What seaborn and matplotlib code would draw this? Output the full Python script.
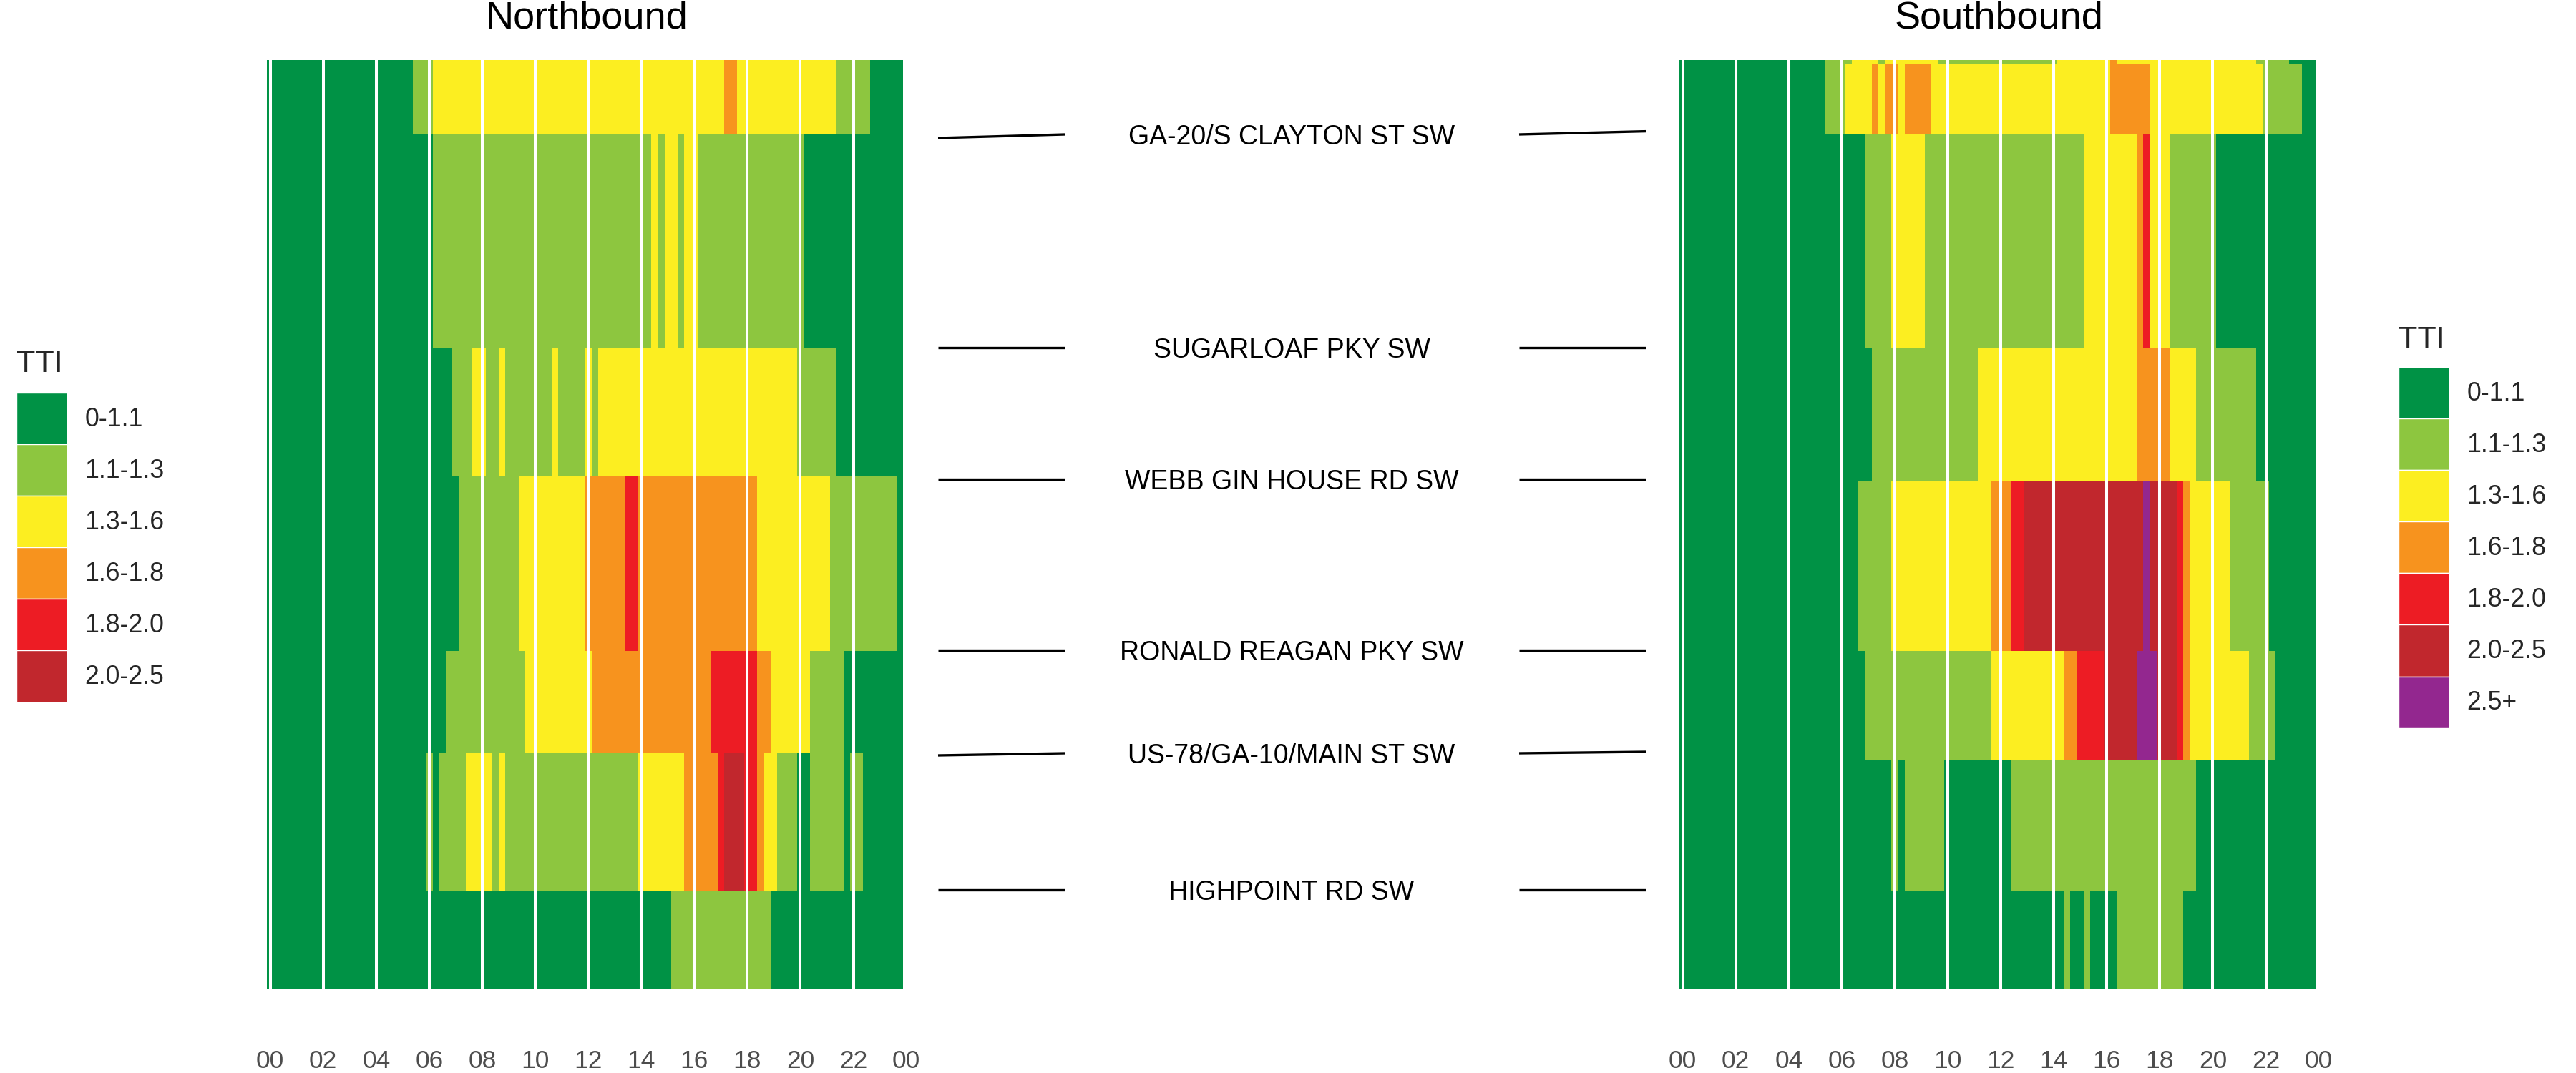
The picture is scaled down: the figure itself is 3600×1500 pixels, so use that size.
import numpy as np
import matplotlib
matplotlib.use("Agg")
import matplotlib.pyplot as plt
import seaborn as sns
from matplotlib.colors import ListedColormap
from matplotlib.patches import Patch

# TTI classes and colours
tti_labels = ["0-1.1", "1.1-1.3", "1.3-1.6", "1.6-1.8", "1.8-2.0", "2.0-2.5", "2.5+"]
tti_colors = ["#009245", "#8DC63F", "#FCEE21", "#F7931E", "#ED1C24", "#C1272D", "#93278F"]

hours = [0, 2, 4, 6, 8, 10, 12, 14, 16, 18, 20, 22, 24]
hour_labels = ["00", "02", "04", "06", "08", "10", "12", "14", "16", "18", "20", "22", "00"]

# segment lengths (hundredths of a mile), top to bottom
nb_seg_len = [52, 149, 90, 122, 71, 97, 68]
sb_seg_len = [3, 49, 149, 93, 119, 76, 92, 68]

# TTI class for each 15-min bin, run-length coded as (class, number of bins)
nb_runs = [
    [(0, 22), (1, 3), (2, 44), (3, 2), (2, 15), (1, 5), (0, 5)],
    [(0, 25), (1, 33), (2, 1), (1, 1), (2, 2), (1, 1), (2, 2), (1, 16), (0, 15)],
    [(0, 28), (1, 3), (2, 2), (1, 2), (2, 1), (1, 7), (2, 1), (1, 4), (2, 1), (1, 1),
     (2, 30), (1, 6), (0, 10)],
    [(0, 29), (1, 9), (2, 10), (3, 6), (4, 2), (3, 18), (2, 11), (1, 10), (0, 1)],
    [(0, 27), (1, 12), (2, 10), (3, 18), (4, 7), (3, 2), (2, 6), (1, 5), (0, 9)],
    [(0, 24), (1, 1), (0, 1), (1, 4), (2, 4), (1, 1), (2, 1), (1, 20), (2, 7), (3, 5),
     (4, 1), (5, 3), (4, 2), (3, 1), (2, 2), (1, 3), (0, 2), (1, 5), (0, 1), (1, 2), (0, 6)],
    [(0, 61), (1, 15), (0, 20)],
]
sb_runs = [
    [(0, 22), (1, 4), (2, 4), (1, 1), (2, 8), (1, 18), (2, 8), (3, 1), (2, 21), (1, 5), (0, 4)],
    [(0, 22), (1, 3), (2, 4), (3, 1), (2, 1), (3, 2), (2, 1), (3, 4), (2, 27), (3, 6),
     (2, 17), (1, 6), (0, 2)],
    [(0, 28), (1, 4), (2, 5), (1, 24), (2, 8), (3, 1), (4, 1), (2, 3), (1, 7), (0, 15)],
    [(0, 29), (1, 16), (2, 24), (3, 5), (2, 4), (1, 9), (0, 9)],
    [(0, 27), (1, 5), (2, 15), (3, 3), (4, 2), (5, 18), (6, 1), (5, 4), (4, 1), (3, 1),
     (2, 6), (1, 6), (0, 7)],
    [(0, 28), (1, 19), (2, 11), (3, 2), (4, 4), (5, 5), (6, 3), (5, 3), (4, 1), (3, 1),
     (2, 9), (1, 4), (0, 6)],
    [(0, 32), (1, 1), (0, 1), (1, 6), (0, 10), (1, 28), (0, 18)],
    [(0, 58), (1, 1), (0, 2), (1, 1), (0, 4), (1, 10), (0, 20)],
]

# cross streets (position along corridor, same units as segment lengths)
streets = ["GA-20/S CLAYTON ST SW", "SUGARLOAF PKY SW", "WEBB GIN HOUSE RD SW",
           "RONALD REAGAN PKY SW", "US-78/GA-10/MAIN ST SW", "HIGHPOINT RD SW"]
street_pos = [52, 201, 293, 412.5, 484.5, 580]
street_nb_end = [54.5, 201, 293, 412.5, 486, 580]
street_sb_end = [49.8, 201, 293, 412.5, 483.5, 580]

sns.set_theme(style="white")
plt.rcParams["font.family"] = ["Liberation Sans", "DejaVu Sans"]

W, H = 3600, 1500
fig = plt.figure(figsize=(36, 15), dpi=100)
cmap = ListedColormap(tti_colors)


def build_grid(runs, seg_len):
    rows = [np.repeat([c for c, n in r], [n for c, n in r]) for r in runs]
    return np.repeat(np.array(rows), seg_len, axis=0)


def fx(px):
    return px / W


def fy(px):
    return 1 - px / H


top_px, bot_px = 84, 1382
ax_h = (bot_px - top_px) / H


def draw_panel(left_px, runs, seg_len, title):
    ax = fig.add_axes([fx(left_px), fy(bot_px), 96.5 * 9.26 / W, ax_h])
    grid = build_grid(runs, seg_len)
    sns.heatmap(grid, ax=ax, cmap=cmap, vmin=-0.5, vmax=len(tti_colors) - 0.5,
                cbar=False, xticklabels=False, yticklabels=False)
    ax.set_xlim(0, 96.5)
    ax.set_ylim(sum(seg_len), 0)
    tick_pos = [h * 4 + 0.5 for h in hours]
    for t in tick_pos[:-1]:
        ax.axvline(t, color="white", lw=2.9)
    ax.set_xticks(tick_pos)
    ax.set_xticklabels(hour_labels, fontsize=25.5, color="#4D4D4D")
    ax.tick_params(axis="x", length=0, pad=61)
    ax.set_yticks([])
    ax.set_xlabel("")
    ax.set_ylabel("")
    for s in ax.spines.values():
        s.set_visible(False)
    ax.set_title(title, fontsize=39, pad=31.7, color="black")
    return ax


draw_panel(373, nb_runs, nb_seg_len, "Northbound")
draw_panel(2347, sb_runs, sb_seg_len, "Southbound")

# middle: cross street names with connectors
axm = fig.add_axes([fx(1280), fy(bot_px), 1060 / W, ax_h])
axm.set_xlim(1280, 2340)
axm.set_ylim(sum(nb_seg_len), 0)
axm.axis("off")
for name, y, yl, yr in zip(streets, street_pos, street_nb_end, street_sb_end):
    axm.plot([1311, 1488], [yl, y], color="black", lw=2.4, solid_capstyle="butt")
    axm.plot([2123, 2300], [y, yr], color="black", lw=2.4, solid_capstyle="butt")
    axm.text(1805, y, name, ha="center", va="center_baseline", fontsize=27, color="black")


def add_legend(n, x_px, title_base_px, box_top_px):
    handles = [Patch(facecolor=c, edgecolor="white", linewidth=1.0) for c in tti_colors[:n]]
    fig.legend(handles, tti_labels[:n], loc="upper left",
               bbox_to_anchor=(fx(x_px), fy(box_top_px)), frameon=False,
               fontsize=25.7, handlelength=2.0, handleheight=2.73, labelspacing=0.0,
               handletextpad=0.67, borderpad=0, borderaxespad=0)
    fig.text(fx(x_px), fy(title_base_px), "TTI", fontsize=31, va="baseline", ha="left")


add_legend(6, 23, 520, 549)
add_legend(7, 3352, 486, 513)

fig.savefig("out.png", dpi=100, facecolor="white")
